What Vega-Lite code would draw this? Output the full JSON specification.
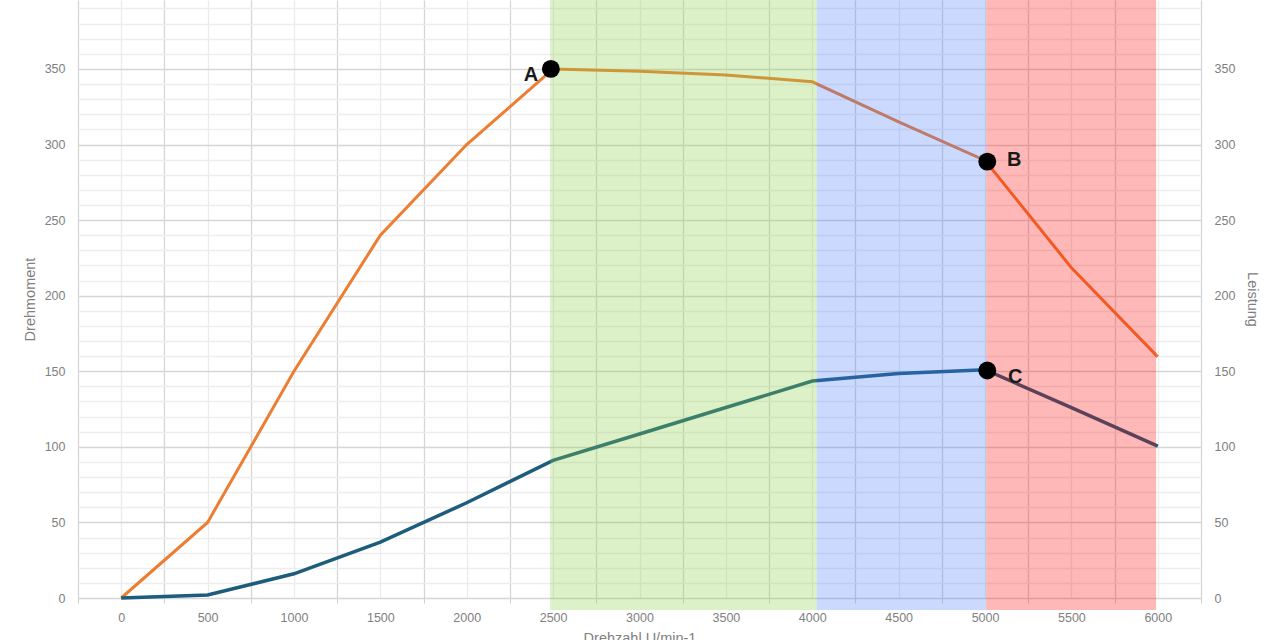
{
  "$schema": "https://vega.github.io/schema/vega-lite/v6.json",
  "width": 1123,
  "height": 598,
  "autosize": {"type": "none"},
  "padding": {"left": 78, "top": 0, "right": 79, "bottom": 42},
  "background": "white",
  "config": {
    "view": {"stroke": null},
    "font": "Liberation Sans",
    "axis": {
      "labelColor": "#808080",
      "titleColor": "#808080",
      "labelFontSize": 12.5,
      "titleFontSize": 14.5,
      "titleFontWeight": "normal",
      "domain": false,
      "labelOverlap": false,
      "labelFlush": false,
      "labelBound": false
    }
  },
  "datasets": {
    "curve": [
      {"rpm": 0, "Drehmoment": 0, "Leistung": 0},
      {"rpm": 500, "Drehmoment": 50, "Leistung": 2},
      {"rpm": 1000, "Drehmoment": 150, "Leistung": 16},
      {"rpm": 1500, "Drehmoment": 240, "Leistung": 37},
      {"rpm": 2000, "Drehmoment": 300, "Leistung": 63},
      {"rpm": 2500, "Drehmoment": 350, "Leistung": 91},
      {"rpm": 3000, "Drehmoment": 348.5, "Leistung": 108.5},
      {"rpm": 3500, "Drehmoment": 346, "Leistung": 126},
      {"rpm": 4000, "Drehmoment": 341.5, "Leistung": 143.5},
      {"rpm": 4500, "Drehmoment": 315, "Leistung": 148.5},
      {"rpm": 5000, "Drehmoment": 289.5, "Leistung": 151},
      {"rpm": 5500, "Drehmoment": 218.5, "Leistung": 126},
      {"rpm": 6000, "Drehmoment": 159.5, "Leistung": 100.5}
    ],
    "bands": [
      {"zone": "gruen", "start": 2483, "end": 4026},
      {"zone": "blau", "start": 4026, "end": 5007},
      {"zone": "rot", "start": 5007, "end": 5990}
    ],
    "points": [
      {"label": "A", "rpm": 2487, "wert": 350},
      {"label": "B", "rpm": 5013, "wert": 288.7},
      {"label": "C", "rpm": 5013, "wert": 150.5}
    ]
  },
  "layer": [
    {
      "data": {"name": "curve"},
      "mark": {"type": "line", "color": "#ed7d31", "strokeWidth": 3},
      "encoding": {
        "x": {
          "field": "rpm",
          "type": "quantitative",
          "scale": {"domain": [-250, 6250], "nice": false, "zero": false},
          "axis": {
            "title": "Drehzahl U/min-1",
            "values": [-250, 0, 250, 500, 750, 1000, 1250, 1500, 1750, 2000, 2250, 2500, 2750, 3000, 3250, 3500, 3750, 4000, 4250, 4500, 4750, 5000, 5250, 5500, 5750, 6000, 6250],
            "format": "d",
            "labelExpr": "(datum.value % 500 === 0 && datum.value >= 0 && datum.value <= 6000) ? datum.label : ''",
            "grid": true,
            "gridColor": {"condition": {"test": "datum.value % 500 !== 0", "value": "#d6d6d6"}, "value": "#ebebeb"},
            "gridWidth": 1.3,
            "ticks": true,
            "tickSize": 5,
            "tickColor": "#d0d0d0",
            "tickOpacity": {"condition": {"test": "datum.value % 500 !== 0", "value": 1}, "value": 0},
            "labelPadding": 8,
            "titlePadding": 8
          }
        },
        "y": {
          "field": "Drehmoment",
          "type": "quantitative",
          "scale": {"domain": [0, 395.6], "nice": false, "zero": false},
          "axis": {
            "orient": "left",
            "title": "Drehmoment",
            "values": [0, 10, 20, 30, 40, 50, 60, 70, 80, 90, 100, 110, 120, 130, 140, 150, 160, 170, 180, 190, 200, 210, 220, 230, 240, 250, 260, 270, 280, 290, 300, 310, 320, 330, 340, 350, 360, 370, 380, 390],
            "format": "d",
            "labelExpr": "datum.value % 50 === 0 ? datum.label : ''",
            "grid": true,
            "gridColor": {"condition": {"test": "datum.value % 50 === 0", "value": "#d6d6d6"}, "value": "#ededed"},
            "gridWidth": 1.3,
            "ticks": false,
            "labelPadding": 13,
            "titlePadding": 7
          }
        }
      }
    },
    {
      "data": {"name": "curve"},
      "mark": {"type": "line", "color": "#1d5c7c", "strokeWidth": 3.5},
      "encoding": {
        "x": {"field": "rpm", "type": "quantitative", "axis": null},
        "y": {
          "field": "Leistung",
          "type": "quantitative",
          "axis": {
            "orient": "right",
            "title": "Leistung",
            "values": [0, 50, 100, 150, 200, 250, 300, 350],
            "format": "d",
            "grid": false,
            "ticks": false,
            "labelPadding": 13,
            "titlePadding": 10
          }
        }
      }
    },
    {
      "data": {"name": "bands"},
      "mark": {"type": "rect"},
      "encoding": {
        "x": {"field": "start", "type": "quantitative", "axis": null},
        "x2": {"field": "end"},
        "y": {"datum": -8, "type": "quantitative", "axis": null},
        "y2": {"datum": 395.6},
        "color": {
          "field": "zone",
          "type": "nominal",
          "scale": {"domain": ["gruen", "blau", "rot"], "range": ["rgba(140,210,70,0.3)", "rgba(70,120,255,0.28)", "rgba(255,0,0,0.28)"]},
          "legend": null
        }
      }
    },
    {
      "data": {"name": "points"},
      "mark": {"type": "circle", "color": "#000000", "opacity": 1, "size": 320},
      "encoding": {
        "x": {"field": "rpm", "type": "quantitative", "axis": null},
        "y": {"field": "wert", "type": "quantitative", "axis": null}
      }
    },
    {
      "data": {"name": "points"},
      "transform": [{"filter": "datum.label === 'A'"}],
      "mark": {"type": "text", "font": "Liberation Sans", "fontWeight": "bold", "fontSize": 20, "color": "#1a1a1a", "baseline": "middle", "align": "center", "dx": -20, "dy": 6},
      "encoding": {
        "x": {"field": "rpm", "type": "quantitative", "axis": null},
        "y": {"field": "wert", "type": "quantitative", "axis": null},
        "text": {"field": "label"}
      }
    },
    {
      "data": {"name": "points"},
      "transform": [{"filter": "datum.label === 'B'"}],
      "mark": {"type": "text", "font": "Liberation Sans", "fontWeight": "bold", "fontSize": 20, "color": "#1a1a1a", "baseline": "middle", "align": "center", "dx": 27, "dy": -2},
      "encoding": {
        "x": {"field": "rpm", "type": "quantitative", "axis": null},
        "y": {"field": "wert", "type": "quantitative", "axis": null},
        "text": {"field": "label"}
      }
    },
    {
      "data": {"name": "points"},
      "transform": [{"filter": "datum.label === 'C'"}],
      "mark": {"type": "text", "font": "Liberation Sans", "fontWeight": "bold", "fontSize": 20, "color": "#1a1a1a", "baseline": "middle", "align": "center", "dx": 28, "dy": 6},
      "encoding": {
        "x": {"field": "rpm", "type": "quantitative", "axis": null},
        "y": {"field": "wert", "type": "quantitative", "axis": null},
        "text": {"field": "label"}
      }
    }
  ],
  "resolve": {"axis": {"x": "independent", "y": "independent"}}
}
